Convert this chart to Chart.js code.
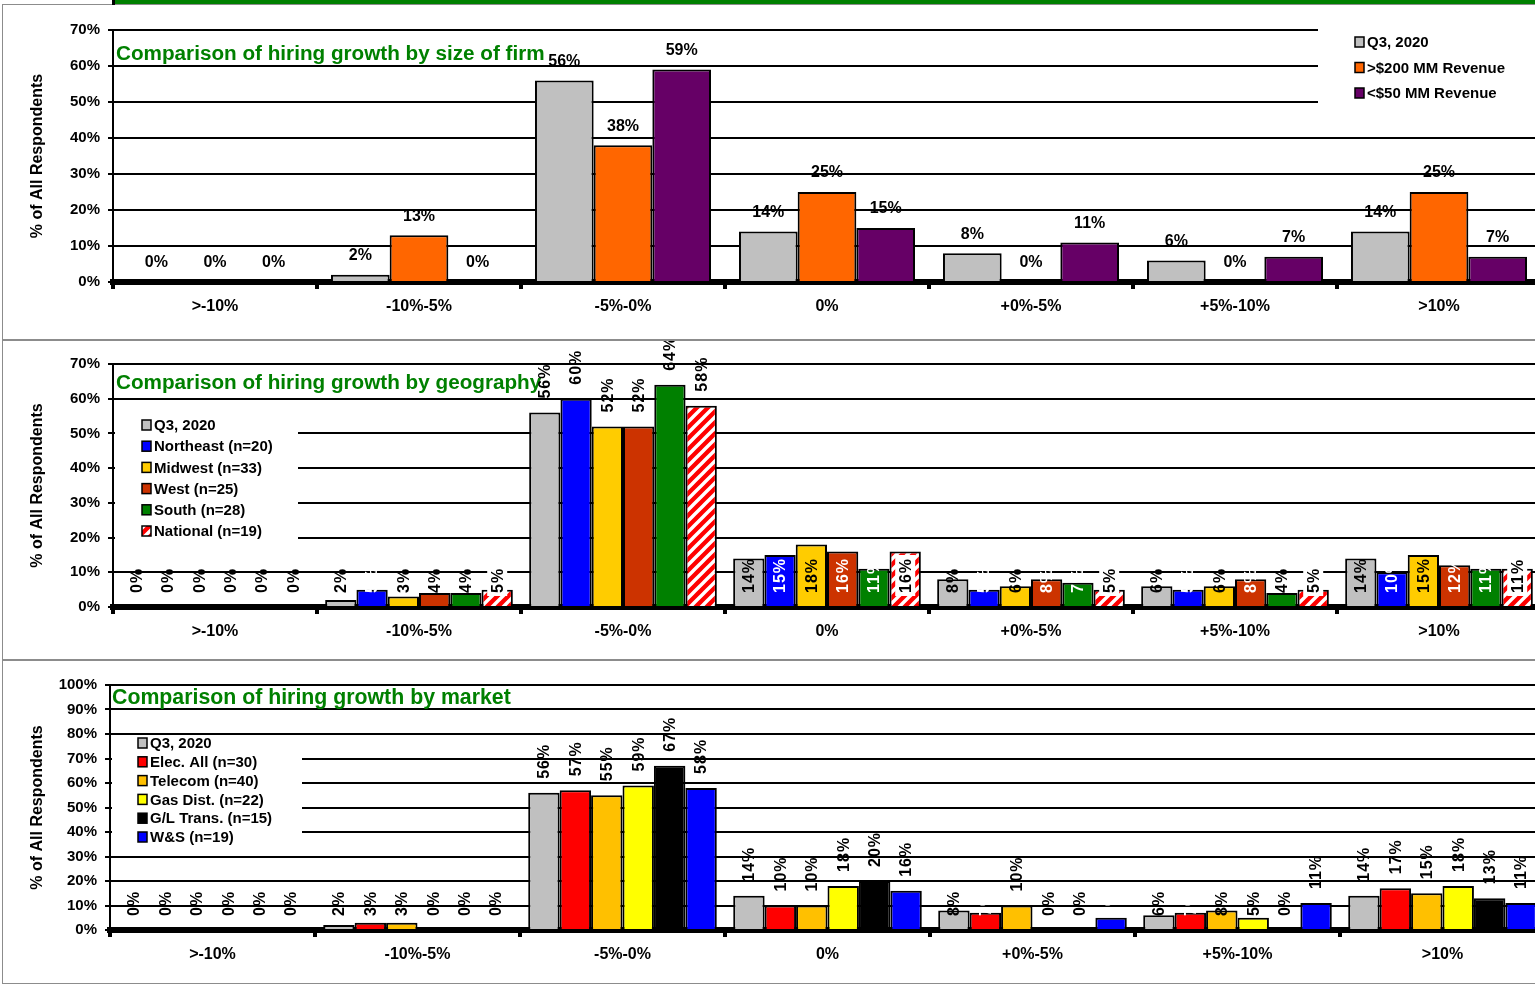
<!DOCTYPE html>
<html>
<head>
<meta charset="utf-8">
<script src="https://cdn.jsdelivr.net/npm/chart.js@4.4.1/dist/chart.umd.min.js"></script>
<style>
  html, body { margin: 0; padding: 0; background: #fff; width: 1535px; height: 985px; overflow: hidden; }
  canvas { position: absolute; left: 0; }
  .panel { position: absolute; left: 2px; width: 1545px; border: 1.5px solid #8c8c8c; pointer-events: none; }
</style>
</head>
<body>
<canvas id="c1" width="1550" height="340" style="top:0px"></canvas>
<canvas id="c2" width="1550" height="320" style="top:340px"></canvas>
<canvas id="c3" width="1550" height="325" style="top:660px"></canvas>
<div class="panel" style="top:4px;height:334px"></div>
<div class="panel" style="top:340px;height:318px"></div>
<div class="panel" style="top:660px;height:322px"></div>
<div style="position:absolute;left:115px;top:0;width:1420px;height:4px;background:#008000"></div>
<div style="position:absolute;left:112px;top:0;width:3px;height:5px;background:#000"></div>
<script>
// categories (change in hiring)
const categories = ['>-10%', '-10%-5%', '-5%-0%', '0%', '+0%-5%', '+5%-10%', '>10%'];

// all respondents
const q3 = [0, 2, 56, 14, 8, 6, 14];

// by size of firm
const over200 = [0, 13, 38, 25, 0, 0, 25];
const under50 = [0, 0, 59, 15, 11, 7, 7];

// by geography
const northeast = [0, 5, 60, 15, 5, 5, 10];
const midwest = [0, 3, 52, 18, 6, 6, 15];
const west = [0, 4, 52, 16, 8, 8, 12];
const south = [0, 4, 64, 11, 7, 4, 11];
const national = [0, 5, 58, 16, 5, 5, 11];

// by market
const elecAll = [0, 3, 57, 10, 7, 7, 17];
const telecom = [0, 3, 55, 10, 10, 8, 15];
const gasDist = [0, 0, 59, 18, 0, 5, 18];
const glTrans = [0, 0, 67, 20, 0, 0, 13];
const waterSewer = [0, 0, 58, 16, 5, 11, 11];

const FONT = '"Liberation Sans", Arial, sans-serif';
Chart.defaults.font.family = FONT;
Chart.defaults.color = '#000';

// red / white diagonal hatch for "National"
function hatch() {
    const n = 11;
    const c = document.createElement('canvas');
    c.width = n; c.height = n;
    const g = c.getContext('2d');
    g.fillStyle = '#ff0000';
    g.fillRect(0, 0, n, n);
    g.strokeStyle = '#ffffff';
    g.lineWidth = 3.4;
    g.beginPath();
    g.moveTo(-2, n + 2); g.lineTo(n + 2, -2);
    g.moveTo(-2, 2); g.lineTo(2, -2);
    g.moveTo(n - 2, n + 2); g.lineTo(n + 2, n - 2);
    g.stroke();
    return g.createPattern(c, 'repeat');
}
const hatchRed = hatch();

// data labels on top of the bars
const barLabels = {
    id: 'barLabels',
    afterDatasetsDraw(chart, args, o) {
        const ctx = chart.ctx;
        const base = chart.scales.y.getPixelForValue(0);
        chart.data.datasets.forEach((ds, i) => {
            chart.getDatasetMeta(i).data.forEach((bar, j) => {
                const v = ds.data[j];
                const txt = v + '%';
                ctx.save();
                ctx.font = 'bold 16px ' + FONT;
                if (!o.rotated) {
                    ctx.textAlign = 'center';
                    ctx.textBaseline = 'middle';
                    ctx.fillStyle = '#000';
                    ctx.fillText(txt, bar.x, bar.y - 19);
                } else {
                    ctx.letterSpacing = '1px';
                    const inside = v < o.threshold;
                    const y0 = inside ? base - 14 : bar.y - 14;
                    ctx.translate(bar.x, y0);
                    ctx.rotate(-Math.PI / 2);
                    ctx.textAlign = 'left';
                    ctx.textBaseline = 'middle';
                    const w = ctx.measureText(txt).width;
                    if (inside && o.boxed && o.boxed[i] && v > 4) {
                        ctx.fillStyle = '#fff';
                        ctx.fillRect(-3, -10, w + 6, 20);
                    }
                    ctx.fillStyle = (inside && v > 4) ? o.insideColors[i] : '#000';
                    ctx.fillText(txt, 0, 1);
                }
                ctx.restore();
            });
        });
    }
};

// green title + legend on a white box
const panelDecor = {
    id: 'panelDecor',
    beforeDatasetsDraw(chart, args, o) {
        const ctx = chart.ctx;
        ctx.save();
        ctx.fillStyle = '#fff';
        ctx.fillRect(o.box[0], o.box[1], o.box[2], o.box[3]);
        ctx.textAlign = 'left';
        ctx.textBaseline = 'middle';
        ctx.font = 'bold ' + o.titleSize + 'px ' + FONT;
        ctx.fillStyle = '#008000';
        ctx.fillText(o.title, o.titleX, o.titleY);
        ctx.font = 'bold 15px ' + FONT;
        chart.data.datasets.forEach((ds, i) => {
            const y = o.legendY + i * o.legendStep;
            ctx.fillStyle = ds.backgroundColor;
            ctx.fillRect(o.legendX, y - 5, 9, 10);
            ctx.strokeStyle = '#000';
            ctx.lineWidth = 1.5;
            ctx.strokeRect(o.legendX, y - 5, 9, 10);
            ctx.fillStyle = '#000';
            ctx.fillText(ds.label, o.legendX + 12, y + 1);
        });
        ctx.restore();
    }
};

function scales(yMax, axisW, xH) {
    return {
        x: {
            grid: { offset: true, drawOnChartArea: false, drawTicks: true, tickLength: 7, color: '#000', lineWidth: 4 },
            border: { color: '#000', width: 6 },
            ticks: { color: '#000', font: { size: 16, weight: 'bold' }, padding: 8, maxRotation: 0 },
            afterFit: s => { s.height = xH; }
        },
        y: {
            min: 0, max: yMax,
            ticks: { stepSize: 10, color: '#000', font: { size: 15, weight: 'bold' }, padding: 8, callback: v => v + '%' },
            grid: { color: '#000', lineWidth: 2, tickLength: 5 },
            border: { color: '#000', width: 2 },
            title: { display: true, text: '% of All Respondents', color: '#000', font: { size: 16, weight: 'bold' }, padding: { top: 28 } },
            afterFit: s => { s.width = axisW; }
        }
    };
}

function ds(label, data, color) {
    return { label: label, data: data, backgroundColor: color, borderColor: '#000', borderWidth: 2 };
}

// chart 1: size of firm
new Chart(document.getElementById('c1'), {
    type: 'bar',
    data: {
        labels: categories,
        datasets: [
            ds('Q3, 2020', q3, '#c0c0c0'),
            ds('>$200 MM Revenue', over200, '#ff6600'),
            ds('<$50 MM Revenue', under50, '#660066')
        ]
    },
    options: {
        responsive: false, animation: false,
        layout: { padding: { top: 30, right: 9, left: 0, bottom: 0 } },
        datasets: { bar: { categoryPercentage: 0.863, barPercentage: 1 } },
        scales: scales(70, 113, 58),
        plugins: {
            legend: { display: false }, tooltip: { enabled: false },
            barLabels: { rotated: false },
            panelDecor: { title: 'Comparison of hiring growth by size of firm', titleX: 116, titleY: 54, titleSize: 20.7,
                box: [1318, 20, 240, 100], legendX: 1355, legendY: 42, legendStep: 25.5 }
        }
    },
    plugins: [panelDecor, barLabels]
});

// chart 2: geography
new Chart(document.getElementById('c2'), {
    type: 'bar',
    data: {
        labels: categories,
        datasets: [
            ds('Q3, 2020', q3, '#c0c0c0'),
            ds('Northeast (n=20)', northeast, '#0000ff'),
            ds('Midwest (n=33)', midwest, '#ffcc00'),
            ds('West (n=25)', west, '#cc3300'),
            ds('South (n=28)', south, '#008000'),
            ds('National (n=19)', national, hatchRed)
        ]
    },
    options: {
        responsive: false, animation: false,
        layout: { padding: { top: 24, right: 9, left: 0, bottom: 0 } },
        datasets: { bar: { categoryPercentage: 0.92, barPercentage: 1 } },
        scales: scales(70, 113, 53),
        plugins: {
            legend: { display: false }, tooltip: { enabled: false },
            barLabels: { rotated: true, threshold: 19,
                insideColors: ['#000', '#fff', '#000', '#fff', '#fff', '#000'],
                boxed: [false, false, false, false, false, true] },
            panelDecor: { title: 'Comparison of hiring growth by geography', titleX: 116, titleY: 43, titleSize: 20.7,
                box: [115, 65, 183, 150], legendX: 142, legendY: 85, legendStep: 21.2 }
        }
    },
    plugins: [panelDecor, barLabels]
});

// chart 3: market
new Chart(document.getElementById('c3'), {
    type: 'bar',
    data: {
        labels: categories,
        datasets: [
            ds('Q3, 2020', q3, '#c0c0c0'),
            ds('Elec. All (n=30)', elecAll, '#ff0000'),
            ds('Telecom (n=40)', telecom, '#ffc000'),
            ds('Gas Dist. (n=22)', gasDist, '#ffff00'),
            ds('G/L Trans. (n=15)', glTrans, '#000000'),
            ds('W&S (n=19)', waterSewer, '#0000ff')
        ]
    },
    options: {
        responsive: false, animation: false,
        layout: { padding: { top: 25, right: 5, left: 0, bottom: 0 } },
        datasets: { bar: { categoryPercentage: 0.92, barPercentage: 1 } },
        scales: scales(100, 110, 55),
        plugins: {
            legend: { display: false }, tooltip: { enabled: false },
            barLabels: { rotated: true, threshold: 10,
                insideColors: ['#000', '#fff', '#000', '#000', '#fff', '#fff'] },
            panelDecor: { title: 'Comparison of hiring growth by market', titleX: 112, titleY: 38, titleSize: 21.3,
                box: [112, 80, 190, 105], legendX: 138, legendY: 83, legendStep: 18.8 }
        }
    },
    plugins: [panelDecor, barLabels]
});
</script>
</body>
</html>
